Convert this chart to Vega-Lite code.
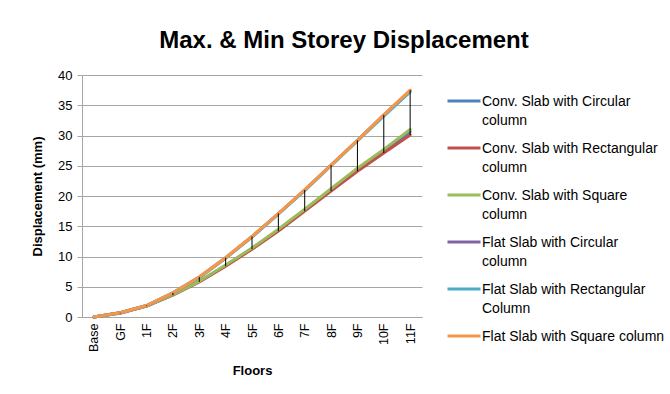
{
  "$schema": "https://vega.github.io/schema/vega-lite/v6.json",
  "width": 340,
  "height": 242,
  "autosize": {"type": "none"},
  "padding": {"left": 82, "top": 75, "right": 248, "bottom": 77},
  "background": "white",
  "title": {
    "text": "Max. & Min Storey Displacement",
    "font": "Liberation Sans",
    "fontSize": 24,
    "fontWeight": "bold",
    "color": "#000000",
    "anchor": "middle",
    "frame": "group",
    "dx": 92,
    "offset": 16
  },
  "config": {
    "view": {"stroke": null},
    "font": "Liberation Sans",
    "axis": {"labelFont": "Liberation Sans", "titleFont": "Liberation Sans", "labelColor": "#000000", "titleColor": "#000000"}
  },
  "data": {
    "values": [
      {"floor": "Base", "series": "Conv. Slab with Circular column", "value": 0},
      {"floor": "GF", "series": "Conv. Slab with Circular column", "value": 0.7},
      {"floor": "1F", "series": "Conv. Slab with Circular column", "value": 1.8},
      {"floor": "2F", "series": "Conv. Slab with Circular column", "value": 3.7},
      {"floor": "3F", "series": "Conv. Slab with Circular column", "value": 5.9},
      {"floor": "4F", "series": "Conv. Slab with Circular column", "value": 8.5},
      {"floor": "5F", "series": "Conv. Slab with Circular column", "value": 11.3},
      {"floor": "6F", "series": "Conv. Slab with Circular column", "value": 14.3},
      {"floor": "7F", "series": "Conv. Slab with Circular column", "value": 17.6},
      {"floor": "8F", "series": "Conv. Slab with Circular column", "value": 21.0},
      {"floor": "9F", "series": "Conv. Slab with Circular column", "value": 24.4},
      {"floor": "10F", "series": "Conv. Slab with Circular column", "value": 27.4},
      {"floor": "11F", "series": "Conv. Slab with Circular column", "value": 30.6},
      {"floor": "Base", "series": "Conv. Slab with Rectangular column", "value": 0},
      {"floor": "GF", "series": "Conv. Slab with Rectangular column", "value": 0.6},
      {"floor": "1F", "series": "Conv. Slab with Rectangular column", "value": 1.8},
      {"floor": "2F", "series": "Conv. Slab with Rectangular column", "value": 3.6},
      {"floor": "3F", "series": "Conv. Slab with Rectangular column", "value": 5.8},
      {"floor": "4F", "series": "Conv. Slab with Rectangular column", "value": 8.4},
      {"floor": "5F", "series": "Conv. Slab with Rectangular column", "value": 11.2},
      {"floor": "6F", "series": "Conv. Slab with Rectangular column", "value": 14.2},
      {"floor": "7F", "series": "Conv. Slab with Rectangular column", "value": 17.5},
      {"floor": "8F", "series": "Conv. Slab with Rectangular column", "value": 20.8},
      {"floor": "9F", "series": "Conv. Slab with Rectangular column", "value": 24.1},
      {"floor": "10F", "series": "Conv. Slab with Rectangular column", "value": 27.1},
      {"floor": "11F", "series": "Conv. Slab with Rectangular column", "value": 30.1},
      {"floor": "Base", "series": "Conv. Slab with Square column", "value": 0},
      {"floor": "GF", "series": "Conv. Slab with Square column", "value": 0.7},
      {"floor": "1F", "series": "Conv. Slab with Square column", "value": 1.8},
      {"floor": "2F", "series": "Conv. Slab with Square column", "value": 3.7},
      {"floor": "3F", "series": "Conv. Slab with Square column", "value": 5.9},
      {"floor": "4F", "series": "Conv. Slab with Square column", "value": 8.6},
      {"floor": "5F", "series": "Conv. Slab with Square column", "value": 11.4},
      {"floor": "6F", "series": "Conv. Slab with Square column", "value": 14.5},
      {"floor": "7F", "series": "Conv. Slab with Square column", "value": 17.8},
      {"floor": "8F", "series": "Conv. Slab with Square column", "value": 21.2},
      {"floor": "9F", "series": "Conv. Slab with Square column", "value": 24.6},
      {"floor": "10F", "series": "Conv. Slab with Square column", "value": 27.7},
      {"floor": "11F", "series": "Conv. Slab with Square column", "value": 31.0},
      {"floor": "Base", "series": "Flat Slab with Circular column", "value": 0},
      {"floor": "GF", "series": "Flat Slab with Circular column", "value": 0.7},
      {"floor": "1F", "series": "Flat Slab with Circular column", "value": 1.9},
      {"floor": "2F", "series": "Flat Slab with Circular column", "value": 4.0},
      {"floor": "3F", "series": "Flat Slab with Circular column", "value": 6.6},
      {"floor": "4F", "series": "Flat Slab with Circular column", "value": 9.8},
      {"floor": "5F", "series": "Flat Slab with Circular column", "value": 13.3},
      {"floor": "6F", "series": "Flat Slab with Circular column", "value": 17.1},
      {"floor": "7F", "series": "Flat Slab with Circular column", "value": 21.0},
      {"floor": "8F", "series": "Flat Slab with Circular column", "value": 25.1},
      {"floor": "9F", "series": "Flat Slab with Circular column", "value": 29.2},
      {"floor": "10F", "series": "Flat Slab with Circular column", "value": 33.4},
      {"floor": "11F", "series": "Flat Slab with Circular column", "value": 37.4},
      {"floor": "Base", "series": "Flat Slab with Rectangular Column", "value": 0},
      {"floor": "GF", "series": "Flat Slab with Rectangular Column", "value": 0.7},
      {"floor": "1F", "series": "Flat Slab with Rectangular Column", "value": 1.9},
      {"floor": "2F", "series": "Flat Slab with Rectangular Column", "value": 4.0},
      {"floor": "3F", "series": "Flat Slab with Rectangular Column", "value": 6.5},
      {"floor": "4F", "series": "Flat Slab with Rectangular Column", "value": 9.7},
      {"floor": "5F", "series": "Flat Slab with Rectangular Column", "value": 13.2},
      {"floor": "6F", "series": "Flat Slab with Rectangular Column", "value": 17.0},
      {"floor": "7F", "series": "Flat Slab with Rectangular Column", "value": 20.9},
      {"floor": "8F", "series": "Flat Slab with Rectangular Column", "value": 25.0},
      {"floor": "9F", "series": "Flat Slab with Rectangular Column", "value": 29.1},
      {"floor": "10F", "series": "Flat Slab with Rectangular Column", "value": 33.2},
      {"floor": "11F", "series": "Flat Slab with Rectangular Column", "value": 37.2},
      {"floor": "Base", "series": "Flat Slab with Square column", "value": 0},
      {"floor": "GF", "series": "Flat Slab with Square column", "value": 0.7},
      {"floor": "1F", "series": "Flat Slab with Square column", "value": 1.9},
      {"floor": "2F", "series": "Flat Slab with Square column", "value": 4.0},
      {"floor": "3F", "series": "Flat Slab with Square column", "value": 6.6},
      {"floor": "4F", "series": "Flat Slab with Square column", "value": 9.8},
      {"floor": "5F", "series": "Flat Slab with Square column", "value": 13.3},
      {"floor": "6F", "series": "Flat Slab with Square column", "value": 17.1},
      {"floor": "7F", "series": "Flat Slab with Square column", "value": 21.0},
      {"floor": "8F", "series": "Flat Slab with Square column", "value": 25.1},
      {"floor": "9F", "series": "Flat Slab with Square column", "value": 29.2},
      {"floor": "10F", "series": "Flat Slab with Square column", "value": 33.4},
      {"floor": "11F", "series": "Flat Slab with Square column", "value": 37.5}
    ]
  },
  "encoding": {
    "x": {
      "field": "floor",
      "type": "ordinal",
      "sort": ["Base", "GF", "1F", "2F", "3F", "4F", "5F", "6F", "7F", "8F", "9F", "10F", "11F"],
      "scale": {"type": "point", "padding": 0.45},
      "axis": {
        "title": "Floors",
        "titleFontSize": 13,
        "titleFontWeight": "bold",
        "titlePadding": 13,
        "labelAngle": -90,
        "labelFontSize": 12.5,
        "labelPadding": 6,
        "ticks": false,
        "domain": true,
        "domainColor": "#a6a6a6",
        "grid": false
      }
    },
    "y": {
      "field": "value",
      "type": "quantitative",
      "scale": {"domain": [0, 40], "nice": false, "zero": true},
      "axis": {
        "title": "Displacement (mm)",
        "titleFontSize": 13,
        "titleFontWeight": "bold",
        "titlePadding": 13,
        "values": [0, 5, 10, 15, 20, 25, 30, 35, 40],
        "labelFontSize": 13,
        "labelPadding": 5,
        "tickSize": 5,
        "tickColor": "#a6a6a6",
        "domainColor": "#a6a6a6",
        "gridColor": "#a6a6a6",
        "gridWidth": 1
      }
    }
  },
  "layer": [
    {
      "mark": {"type": "line", "strokeWidth": 3, "strokeCap": "round", "strokeJoin": "round"},
      "encoding": {
        "color": {
          "field": "series",
          "type": "nominal",
          "scale": {
            "domain": ["Conv. Slab with Circular column", "Conv. Slab with Rectangular column", "Conv. Slab with Square column", "Flat Slab with Circular column", "Flat Slab with Rectangular Column", "Flat Slab with Square column"],
            "range": ["#4F81BD", "#C0504D", "#9BBB59", "#8064A2", "#4BACC6", "#F79646"]
          },
          "legend": {
            "title": null,
            "orient": "none",
            "legendX": 364,
            "legendY": 8,
            "symbolType": "stroke",
            "symbolSize": 1089,
            "symbolStrokeWidth": 3,
            "labelFont": "Liberation Sans",
            "labelFontSize": 14,
            "labelColor": "#000000",
            "labelLimit": 300,
            "labelBaseline": "top",
            "labelOffset": 0,
            "rowPadding": 2,
            "labelExpr": "datum.label == 'Flat Slab with Square column' ? datum.label : [slice(datum.label, 0, lastindexof(datum.label, ' ')), slice(datum.label, lastindexof(datum.label, ' ') + 1)]",
            "encode": {
              "labels": {"update": {"dy": {"value": -6}, "lineHeight": {"value": 19}}}
            }
          }
        }
      }
    },
    {
      "mark": {"type": "rule", "color": "#000000", "strokeWidth": 1},
      "encoding": {
        "y": {"aggregate": "max", "field": "value", "type": "quantitative"},
        "y2": {"aggregate": "min", "field": "value"}
      }
    }
  ]
}
